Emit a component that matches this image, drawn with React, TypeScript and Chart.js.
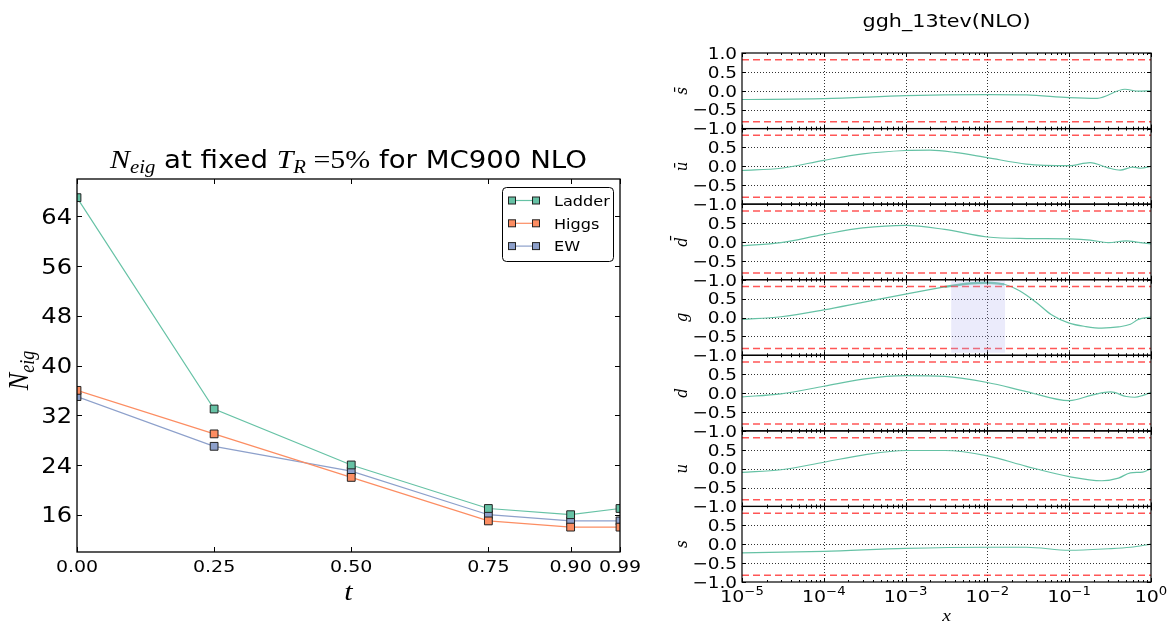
import React, { useEffect, useRef } from 'react';
import { Chart, registerables } from 'chart.js';
Chart.register(...registerables);

// ---------- text stretch used by the reference ----------
const SX = 1.15;

// ---------- left panel data ----------
const tValues = [0, 0.25, 0.5, 0.75, 0.9, 0.99];
const tTickLabels = ['0.00', '0.25', '0.50', '0.75', '0.90', '0.99'];
const ladderN = [67, 33, 24, 17, 16, 17];
const higgsN = [36, 29, 22, 15, 14, 14];
const ewN = [35, 27, 23, 16, 15, 15];
const nTicks = [16, 24, 32, 40, 48, 56, 64];
const seriesNames = ['Ladder', 'Higgs', 'EW'];
const seriesColors = ['#66c2a5', '#fc8d62', '#8da0cb'];

// ---------- right panel data ----------
const flavourLabels = ['s\u0304', 'u\u0304', 'd\u0304', 'g', 'd', 'u', 's'];
const sbarX = [1e-5, 1e-4, 1e-3, 3e-3, 1e-2, 3e-2, 1e-1, 2.2e-1, 4.8e-1, 7e-1, 1];
const sbarY = [-0.23, -0.21, -0.13, -0.11, -0.1, -0.11, -0.18, -0.2, 0.04, -0.01, 0];
const ubarX = [1e-5, 3e-5, 1e-4, 3e-4, 1e-3, 2e-3, 4e-3, 1e-2, 3e-2, 1e-1, 1.8e-1, 3e-1, 4.2e-1, 6e-1, 7.5e-1, 1];
const ubarY = [-0.11, -0.05, 0.16, 0.33, 0.42, 0.43, 0.37, 0.23, 0.06, 0.02, 0.1, -0.04, -0.1, -0.02, -0.05, 0];
const dbarX = [1e-5, 3e-5, 1e-4, 3e-4, 1e-3, 3e-3, 1e-2, 3e-2, 1e-1, 1.8e-1, 3e-1, 5e-1, 7e-1, 1];
const dbarY = [-0.1, -0.02, 0.2, 0.37, 0.44, 0.33, 0.13, 0.09, 0.08, 0.05, -0.02, 0.03, -0.01, -0.05];
const gluonX = [1e-5, 3e-5, 1e-4, 3e-4, 1e-3, 3e-3, 6e-3, 1e-2, 1.6e-2, 2.5e-2, 4e-2, 6e-2, 1e-1, 1.6e-1, 2.5e-1, 4e-1, 5.6e-1, 7e-1, 1];
const gluonY = [-0.05, 0.02, 0.2, 0.4, 0.62, 0.81, 0.9, 0.92, 0.88, 0.7, 0.39, 0.08, -0.15, -0.24, -0.28, -0.25, -0.18, -0.05, 0.01];
const downX = [1e-5, 3e-5, 1e-4, 3e-4, 1e-3, 3e-3, 1e-2, 3e-2, 1e-1, 2e-1, 3.2e-1, 5e-1, 6.3e-1, 8e-1, 1];
const downY = [-0.1, -0.02, 0.18, 0.37, 0.46, 0.44, 0.28, 0.04, -0.2, -0.04, 0.03, -0.09, -0.11, -0.06, 0.02];
const upX = [1e-5, 3e-5, 1e-4, 3e-4, 1e-3, 3e-3, 1e-2, 3e-2, 1e-1, 2.5e-1, 4e-1, 5.6e-1, 7.9e-1, 1];
const upY = [-0.1, -0.03, 0.17, 0.36, 0.48, 0.48, 0.34, 0.06, -0.21, -0.32, -0.25, -0.11, -0.09, 0];
const strangeX = [1e-5, 1e-4, 1e-3, 1e-2, 3e-2, 1e-1, 3e-1, 5.6e-1, 1];
const strangeY = [-0.23, -0.19, -0.11, -0.08, -0.08, -0.16, -0.12, -0.08, 0];

const panelXs = [sbarX, ubarX, dbarX, gluonX, downX, upX, strangeX];
const panelYs = [sbarY, ubarY, dbarY, gluonY, downY, upY, strangeY];

const xDecades = [1e-5, 1e-4, 1e-3, 1e-2, 1e-1, 1];
const xDecadeExps = ['\u22125', '\u22124', '\u22123', '\u22122', '\u22121', '0'];
const corrTicks = [-1, -0.5, 0, 0.5, 1];
const corrTickLabels = ['\u22121.0', '\u22120.5', '0.0', '0.5', '1.0'];
const corrGridLevels = [-0.5, 0, 0.5];
const thresholdLevel = 0.82;
const bandX = [3.6e-3, 1.65e-2];
const bandTop = 0.97;
const bandBottom = -0.93;
const highlightRange = [5, 8]; // indices of gluon points inside the band

const panelIds = flavourLabels.map((_, i) => 'y' + i);

// ---------- helpers ----------
type Run = { t: string; font: string; dy?: number };
function drawRuns(ctx: CanvasRenderingContext2D, runs: Run[], x: number, y: number,
  align: 'left' | 'center' | 'right', sx = SX, rot = false, color = '#000') {
  ctx.save();
  ctx.translate(x, y);
  ctx.scale(sx, 1);
  if (rot) ctx.rotate(-Math.PI / 2);
  ctx.fillStyle = color;
  ctx.textAlign = 'left';
  ctx.textBaseline = 'alphabetic';
  let w = 0;
  const ws = runs.map(r => { ctx.font = r.font; const m = ctx.measureText(r.t).width; w += m; return m; });
  let cx = align === 'left' ? 0 : align === 'center' ? -w / 2 : -w;
  runs.forEach((r, i) => { ctx.font = r.font; ctx.fillText(r.t, cx, r.dy || 0); cx += ws[i]; });
  ctx.restore();
}

function drawSquare(ctx: CanvasRenderingContext2D, x: number, y: number, s: number, fill: string) {
  ctx.fillStyle = fill;
  ctx.fillRect(x - s / 2, y - s / 2, s, s);
  ctx.strokeStyle = '#222';
  ctx.lineWidth = 1;
  ctx.strokeRect(x - s / 2, y - s / 2, s, s);
}

// ---------- left decorations ----------
const leftDecor = {
  id: 'leftDecor',
  afterDraw(chart: any) {
    const { ctx, chartArea: a, scales } = chart;
    const x = scales.x, y = scales.y;
    ctx.save();
    ctx.strokeStyle = '#000';
    ctx.lineWidth = 1;
    ctx.beginPath();
    tValues.forEach(v => {
      const px = Math.round(x.getPixelForValue(v)) + 0.5;
      ctx.moveTo(px, a.bottom); ctx.lineTo(px, a.bottom - 5);
      ctx.moveTo(px, a.top); ctx.lineTo(px, a.top + 5);
    });
    nTicks.forEach(v => {
      const py = Math.round(y.getPixelForValue(v)) + 0.5;
      ctx.moveTo(a.left, py); ctx.lineTo(a.left + 5, py);
      ctx.moveTo(a.right, py); ctx.lineTo(a.right - 5, py);
    });
    ctx.stroke();
    ctx.lineWidth = 1.3;
    ctx.strokeRect(a.left, a.top, a.right - a.left, a.bottom - a.top);

    tValues.forEach((v, i) => drawRuns(ctx, [{ t: tTickLabels[i], font: '16.5px "DejaVu Sans"' }],
      x.getPixelForValue(v), a.bottom + 20, 'center'));
    nTicks.forEach(v => drawRuns(ctx, [{ t: String(v), font: '21px "DejaVu Sans"' }],
      a.left - 5, y.getPixelForValue(v) + 7.6, 'right'));

    // title
    drawRuns(ctx, [
      { t: 'N', font: 'italic 26px "Liberation Serif"' },
      { t: 'eig', font: 'italic 18px "Liberation Serif"', dy: 5 },
      { t: ' at fixed ', font: '24px "DejaVu Sans"' },
      { t: 'T', font: 'italic 26px "Liberation Serif"' },
      { t: 'R', font: 'italic 18px "Liberation Serif"', dy: 5 },
      { t: ' =5%', font: '26px "Liberation Serif"' },
      { t: ' for MC900 NLO', font: '24px "DejaVu Sans"' },
    ], (a.left + a.right) / 2, 168, 'center');

    // axis labels
    drawRuns(ctx, [
      { t: 'N', font: 'italic 26px "Liberation Serif"' },
      { t: 'eig', font: 'italic 18px "Liberation Serif"', dy: 5 },
    ], 28, (a.top + a.bottom) / 2 + 5, 'center', SX, true);
    drawRuns(ctx, [{ t: 't', font: 'italic 26px "Liberation Serif"' }], (a.left + a.right) / 2, 600, 'center');

    // legend
    const bx = a.right - 118, by = a.top + 8, bw = 111, bh = 74;
    ctx.beginPath();
    if ((ctx as any).roundRect) (ctx as any).roundRect(bx + 0.5, by + 0.5, bw, bh, 4); else ctx.rect(bx + 0.5, by + 0.5, bw, bh);
    ctx.fillStyle = '#fff';
    ctx.fill();
    ctx.strokeStyle = '#000';
    ctx.lineWidth = 1;
    ctx.stroke();
    seriesNames.forEach((name, i) => {
      const ry = by + 13.5 + i * 22.8;
      const x1 = bx + 10, x2 = bx + 34;
      ctx.strokeStyle = seriesColors[i];
      ctx.lineWidth = 1.2;
      ctx.beginPath(); ctx.moveTo(x1, ry); ctx.lineTo(x2, ry); ctx.stroke();
      drawSquare(ctx, x1, ry, 7, seriesColors[i]);
      drawSquare(ctx, x2, ry, 7, seriesColors[i]);
      drawRuns(ctx, [{ t: name, font: '14px "DejaVu Sans"' }], bx + 52, ry + 5.2, 'left');
    });
    ctx.restore();
  },
};

// ---------- right decorations ----------
const rightDecor = {
  id: 'rightDecor',
  beforeDatasetsDraw(chart: any) {
    const { ctx, chartArea: a, scales } = chart;
    const x = scales.x;
    ctx.save();
    ctx.strokeStyle = 'rgba(0,0,0,0.8)';
    ctx.lineWidth = 1;
    ctx.setLineDash([1, 2]);
    ctx.beginPath();
    xDecades.slice(1, -1).forEach(v => {
      const px = Math.round(x.getPixelForValue(v)) + 0.5;
      ctx.moveTo(px, a.top); ctx.lineTo(px, a.bottom);
    });
    panelIds.forEach(id => {
      const s = scales[id];
      corrGridLevels.forEach(v => {
        const py = Math.round(s.getPixelForValue(v)) + 0.5;
        ctx.moveTo(a.left, py); ctx.lineTo(a.right, py);
      });
    });
    ctx.stroke();
    ctx.restore();
  },
  afterDraw(chart: any) {
    const { ctx, chartArea: a, scales } = chart;
    const x = scales.x;
    ctx.save();
    ctx.strokeStyle = '#000';
    ctx.lineWidth = 1;
    panelIds.forEach((id, k) => {
      const s = scales[id];
      ctx.beginPath();
      xDecades.forEach((d, di) => {
        const px = Math.round(x.getPixelForValue(d)) + 0.5;
        ctx.moveTo(px, s.top); ctx.lineTo(px, s.top + 4);
        ctx.moveTo(px, s.bottom); ctx.lineTo(px, s.bottom - 4);
        if (di < xDecades.length - 1) {
          for (let m = 2; m <= 9; m++) {
            const pm = Math.round(x.getPixelForValue(d * m)) + 0.5;
            ctx.moveTo(pm, s.top); ctx.lineTo(pm, s.top + 2);
            ctx.moveTo(pm, s.bottom); ctx.lineTo(pm, s.bottom - 2);
          }
        }
      });
      corrTicks.forEach(v => {
        const py = Math.round(s.getPixelForValue(v)) + 0.5;
        ctx.moveTo(a.left, py); ctx.lineTo(a.left + 4, py);
        ctx.moveTo(a.right, py); ctx.lineTo(a.right - 4, py);
      });
      ctx.stroke();
      ctx.lineWidth = 1.2;
      ctx.strokeRect(a.left, s.top, a.right - a.left, s.bottom - s.top);
      ctx.lineWidth = 1;
      corrTicks.forEach((v, i) => {
        if (v === 1 && k > 0) return;
        drawRuns(ctx, [{ t: corrTickLabels[i], font: '16px "DejaVu Sans"' }],
          a.left - 5, s.getPixelForValue(v) + 5.8, 'right');
      });
      drawRuns(ctx, [{ t: flavourLabels[k], font: 'italic 15px "DejaVu Serif"' }],
        37, (s.top + s.bottom) / 2, 'center', SX, true);
    });
    xDecades.forEach((d, i) => {
      const px = x.getPixelForValue(d);
      drawRuns(ctx, [
        { t: '10', font: '16.5px "DejaVu Sans"' },
        { t: xDecadeExps[i], font: '11.5px "DejaVu Sans"', dy: -7.5 },
      ], px, a.bottom + 20, 'center');
    });
    drawRuns(ctx, [{ t: 'x', font: 'italic 17px "Liberation Serif"' }], (a.left + a.right) / 2, 621, 'center');
    drawRuns(ctx, [{ t: 'ggh_13tev(NLO)', font: '18px "DejaVu Sans"' }], (a.left + a.right) / 2, 27, 'center');
    ctx.restore();
  },
};

function leftConfig(): any {
  const values = [ladderN, higgsN, ewN];
  return {
    type: 'line',
    data: {
      datasets: values.map((vals, i) => ({
        label: seriesNames[i],
        data: tValues.map((t, j) => ({ x: t, y: vals[j] })),
        borderColor: seriesColors[i],
        backgroundColor: seriesColors[i],
        borderWidth: 1.2,
        pointStyle: 'rect',
        pointRadius: 5.5,
        pointBackgroundColor: seriesColors[i],
        pointBorderColor: '#222',
        pointBorderWidth: 1,
        tension: 0,
      })),
    },
    options: {
      animation: false,
      responsive: false,
      devicePixelRatio: 1,
      layout: { padding: { left: 0, top: 179, right: 30, bottom: 0 } },
      plugins: { legend: { display: false }, tooltip: { enabled: false }, title: { display: false } },
      scales: {
        x: {
          type: 'linear', min: 0, max: 0.99,
          grid: { display: false }, border: { display: false }, ticks: { display: false },
          afterFit: (s: any) => { s.height = 72; },
        },
        y: {
          type: 'linear', min: 10, max: 70,
          grid: { display: false }, border: { display: false }, ticks: { display: false },
          afterFit: (s: any) => { s.width = 77; },
        },
      },
    },
    plugins: [leftDecor],
  };
}

function rightConfig(): any {
  const datasets: any[] = [];
  datasets.push({
    data: bandX.map(v => ({ x: v, y: bandTop })),
    yAxisID: 'y3',
    borderWidth: 0,
    pointRadius: 0,
    backgroundColor: 'rgba(175,175,240,0.25)',
    fill: { value: bandBottom },
  });
  panelIds.forEach(id => {
    [thresholdLevel, -thresholdLevel].forEach(lv => {
      datasets.push({
        data: [xDecades[0], xDecades[xDecades.length - 1]].map(v => ({ x: v, y: lv })),
        yAxisID: id,
        borderColor: 'rgba(255,30,30,0.75)',
        borderWidth: 1.5,
        borderDash: [7, 4],
        pointRadius: 0,
        fill: false,
      });
    });
  });
  panelIds.forEach((id, k) => {
    datasets.push({
      data: panelXs[k].map((v, j) => ({ x: v, y: panelYs[k][j] })),
      yAxisID: id,
      borderColor: '#66c2a5',
      borderWidth: 1.2,
      pointRadius: 0,
      cubicInterpolationMode: 'monotone',
      fill: false,
    });
  });
  datasets.push({
    data: gluonX.slice(highlightRange[0], highlightRange[1] + 1).map((v, j) => ({ x: v, y: gluonY[highlightRange[0] + j] })),
    yAxisID: 'y3',
    borderColor: 'rgba(102,194,165,0.85)',
    borderWidth: 2.4,
    pointRadius: 0,
    cubicInterpolationMode: 'monotone',
    fill: false,
  });

  const scales: any = {
    x: {
      type: 'logarithmic', min: 1e-5, max: 1,
      grid: { display: false }, border: { display: false }, ticks: { display: false },
      afterFit: (s: any) => { s.height = 42; },
    },
  };
  panelIds.forEach((id, i) => {
    scales[id] = {
      type: 'linear', min: -1, max: 1, position: 'left', stack: 'pdf', stackWeight: 1, weight: 7 - i,
      grid: { display: false }, border: { display: false }, ticks: { display: false },
      afterFit: (s: any) => { s.width = 92; },
    };
  });

  return {
    type: 'line',
    data: { datasets },
    options: {
      animation: false,
      responsive: false,
      devicePixelRatio: 1,
      layout: { padding: { left: 0, top: 53, right: 19, bottom: 0 } },
      plugins: { legend: { display: false }, tooltip: { enabled: false }, title: { display: false } },
      scales,
    },
    plugins: [rightDecor],
  };
}

export default function App() {
  const leftRef = useRef<HTMLCanvasElement>(null);
  const rightRef = useRef<HTMLCanvasElement>(null);
  useEffect(() => {
    const c1 = new Chart(leftRef.current!, leftConfig());
    const c2 = new Chart(rightRef.current!, rightConfig());
    return () => { c1.destroy(); c2.destroy(); };
  }, []);
  return (
    <div style={{ position: 'absolute', left: 0, top: 0, width: 1170, height: 624, background: '#fff', overflow: 'hidden' }}>
      <canvas ref={leftRef} width={650} height={624} style={{ position: 'absolute', left: 0, top: 0, width: 650, height: 624 }} />
      <canvas ref={rightRef} width={520} height={624} style={{ position: 'absolute', left: 650, top: 0, width: 520, height: 624 }} />
    </div>
  );
}
